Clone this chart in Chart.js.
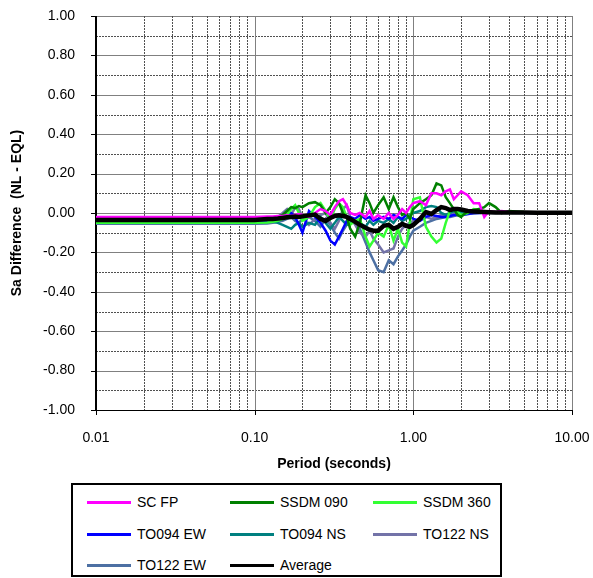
<!DOCTYPE html>
<html><head><meta charset="utf-8">
<script src="https://cdn.jsdelivr.net/npm/chart.js@4/dist/chart.umd.min.js"></script>
<style>
html,body{margin:0;padding:0;background:#fff;}
#wrap{position:relative;width:593px;height:578px;overflow:hidden;}
#c{position:absolute;left:0;top:0;}
#legend{position:absolute;left:71px;top:483px;width:427px;height:90px;border:2px solid #000;font-family:"Liberation Sans",Arial,sans-serif;font-size:14px;color:#000;background:#fff;}
.item{position:absolute;height:18px;line-height:18px;white-space:nowrap;}
.item .ln{position:absolute;left:0;top:8px;width:44px;height:3px;}
.item .tx{position:absolute;left:50px;top:0;}
</style></head>
<body><div id="wrap"><canvas id="c" width="593" height="480"></canvas><div id="legend"></div></div>
<script>
const periods = [0.01,0.02,0.05,0.1,0.12, 0.13,0.14,0.15,0.16,0.17,0.18,0.19,0.20, 0.22,0.24,0.26,0.28,0.30, 0.32,0.34,0.36,0.38,0.40, 0.43,0.46,0.50,0.53,0.56,0.60, 0.65,0.70,0.75,0.80,0.85,0.90,0.95,1.0, 1.1,1.2,1.3,1.4,1.5,1.6,1.7,1.8,1.9,2.0, 2.2,2.4,2.6,2.8,3.0,3.3,3.6,4.0, 5,6,8,10];

const scFP = [-0.02,-0.02,-0.02,-0.02,-0.018,
 -0.018,-0.015,-0.015,-0.012,-0.015,-0.01,-0.005,-0.01,
 -0.02,0.0,0.02,0.01,-0.01,
 0.03,0.06,0.07,0.04,0.0,
 -0.01,0.0,-0.02,0.01,-0.03,-0.01,
 -0.03,0.0,-0.03,-0.01,0.02,0.0,0.03,0.05,
 0.06,0.04,0.1,0.1,0.09,0.11,0.12,0.07,0.09,0.11,
 0.09,0.05,0.05,-0.02,0.01,0.005,0.01,0.005,
 0.003,0.002,0.001,0.001];
const ssdm090 = [-0.03,-0.03,-0.03,-0.03,-0.028,
 -0.025,-0.02,-0.01,0.01,0.03,0.025,0.035,0.03,
 0.05,0.055,0.04,0.0,0.03,
 0.07,0.05,0.0,-0.02,-0.08,
 -0.12,-0.05,0.09,0.05,0.0,0.04,
 0.08,0.02,0.08,0.03,-0.01,0.0,-0.03,0.02,
 0.05,0.07,0.09,0.15,0.14,0.08,0.05,0.02,-0.01,-0.02,
 0.01,0.015,0.02,0.03,0.05,0.03,0.0,0.01,
 0.005,0.003,0.002,0.001];
const ssdm360 = [-0.05,-0.05,-0.05,-0.05,-0.048,
 -0.045,-0.04,-0.03,-0.01,0.02,0.04,0.0,-0.04,
 -0.02,0.03,0.05,0.01,-0.03,
 0.02,0.05,0.03,-0.02,-0.06,
 -0.04,-0.03,-0.12,-0.17,-0.14,-0.1,
 -0.12,-0.06,-0.14,-0.08,-0.15,-0.17,-0.05,0.07,
 0.08,-0.07,-0.12,-0.15,-0.13,-0.05,0.01,0.02,0.005,-0.01,
 0.0,0.02,0.015,0.01,0.008,0.006,0.005,0.003,
 0.002,0.001,0.001,0.0];
const to094EW = [-0.04,-0.04,-0.04,-0.04,-0.038,
 -0.035,-0.03,-0.02,-0.01,0.0,-0.02,-0.06,-0.1,
 0.01,-0.02,-0.05,-0.09,-0.14,
 -0.16,-0.12,-0.08,-0.04,-0.02,
 -0.03,-0.01,-0.03,-0.02,-0.04,-0.03,
 -0.02,-0.03,-0.01,-0.02,-0.03,-0.01,-0.02,-0.03,
 -0.04,-0.02,-0.01,-0.015,-0.02,-0.02,-0.015,-0.01,-0.01,-0.01,
 -0.005,0.0,0.0,0.002,0.002,0.002,0.002,0.001,
 0.001,0.001,0.0,0.0];
const to094NS = [-0.045,-0.045,-0.045,-0.045,-0.045,
 -0.045,-0.05,-0.06,-0.07,-0.08,-0.06,-0.05,-0.07,
 -0.05,-0.06,-0.02,-0.05,-0.08,
 -0.05,-0.02,-0.04,-0.06,-0.05,
 -0.03,-0.05,-0.07,-0.04,-0.06,-0.04,
 -0.05,-0.03,-0.05,-0.02,-0.04,-0.03,-0.01,0.0,
 0.01,0.03,0.035,0.03,0.0,-0.01,0.0,0.01,0.01,0.005,
 0.005,0.005,0.004,0.003,0.003,0.002,0.002,0.001,
 0.001,0.0,0.0,0.0];
const to122NS = [-0.035,-0.035,-0.035,-0.035,-0.033,
 -0.03,-0.02,0.0,0.02,-0.01,0.03,0.02,-0.02,
 -0.06,-0.03,-0.01,0.0,-0.05,
 -0.08,-0.04,0.02,0.04,-0.02,
 -0.06,-0.1,-0.12,-0.09,-0.13,-0.16,
 -0.2,-0.19,-0.18,-0.12,-0.08,-0.06,-0.05,-0.04,
 -0.03,-0.02,-0.03,-0.02,-0.01,-0.01,-0.01,0.0,0.0,0.0,
 0.0,0.002,0.002,0.002,0.002,0.001,0.001,0.001,
 0.0,0.0,0.0,0.0];
const to122EW = [-0.055,-0.055,-0.055,-0.055,-0.053,
 -0.05,-0.045,-0.04,-0.03,-0.02,-0.04,-0.05,-0.03,
 -0.02,-0.04,-0.07,-0.03,-0.06,
 -0.1,-0.13,-0.09,-0.06,-0.04,
 -0.05,-0.08,-0.15,-0.2,-0.24,-0.29,
 -0.3,-0.24,-0.26,-0.22,-0.19,-0.16,-0.12,-0.09,
 -0.07,-0.05,-0.04,-0.03,-0.025,-0.02,-0.02,-0.015,-0.01,-0.01,
 -0.005,-0.002,0.0,0.0,0.0,0.0,0.0,0.0,
 0.0,0.0,0.0,0.0];
const average = [-0.035,-0.035,-0.035,-0.035,-0.03,
 -0.03,-0.028,-0.025,-0.022,-0.02,-0.018,-0.02,-0.017,
 -0.012,-0.008,-0.03,-0.04,-0.025,
 -0.015,-0.012,-0.015,-0.02,-0.03,
 -0.045,-0.06,-0.075,-0.085,-0.09,-0.09,
 -0.065,-0.06,-0.08,-0.07,-0.055,-0.065,-0.07,-0.06,
 -0.03,0.005,-0.005,0.015,0.03,0.025,0.015,0.02,0.02,0.018,
 0.01,0.008,0.006,0.005,0.004,0.003,0.003,0.002,
 0.002,0.001,0.001,0.001];

const seriesNames = ['SC FP','SSDM 090','SSDM 360','TO094 EW','TO094 NS','TO122 NS','TO122 EW','Average'];
const seriesValues = [scFP, ssdm090, ssdm360, to094EW, to094NS, to122NS, to122EW, average];
const seriesColors = ['#FF00FF','#008000','#33FF33','#0000FF','#008080','#7373A8','#4D70A3','#000000'];
const seriesWidths = [2.5,2.5,2.5,2.5,2.5,2.5,2.5,4.5];

const xMajorTicks = [0.01, 0.1, 1, 10];
const yMin = -1, yMax = 1, yStep = 0.2;

const FONT = '"Liberation Sans", Arial, sans-serif';

const gridPlugin = {
  id: 'excelGrid',
  beforeDatasetsDraw(chart) {
    const {ctx, chartArea: a, scales: {x, y}} = chart;
    ctx.save();
    ctx.lineWidth = 1;
    const r = v => Math.round(v) + 0.5;
    for (let i = -10; i <= 10; i++) {
      const py = r(y.getPixelForValue(i / 10));
      const major = (i % 2 === 0);
      ctx.beginPath();
      ctx.setLineDash(major ? [] : [2, 1]);
      ctx.strokeStyle = major ? '#808080' : '#505050';
      ctx.moveTo(a.left, py); ctx.lineTo(a.right, py);
      ctx.stroke();
    }
    for (let d = 0; d < xMajorTicks.length; d++) {
      const base = xMajorTicks[d];
      for (let m = 1; m <= 9; m++) {
        const v = base * m;
        if (v > 10.0001) break;
        const px = r(x.getPixelForValue(v));
        const major = (m === 1);
        ctx.beginPath();
        ctx.setLineDash(major ? [] : [2, 1]);
        ctx.strokeStyle = major ? '#808080' : '#505050';
        ctx.moveTo(px, a.top); ctx.lineTo(px, a.bottom);
        ctx.stroke();
      }
    }
    ctx.setLineDash([]);
    ctx.strokeStyle = '#000';
    const by = r(a.bottom);
    ctx.beginPath(); ctx.moveTo(a.left, by); ctx.lineTo(a.right, by); ctx.stroke();
    for (let i = -5; i <= 5; i++) {
      const py = r(y.getPixelForValue(i / 5));
      ctx.beginPath(); ctx.moveTo(a.left - 5, py); ctx.lineTo(a.left, py); ctx.stroke();
    }
    xMajorTicks.forEach(v => {
      const px = r(x.getPixelForValue(v));
      ctx.beginPath(); ctx.moveTo(px, a.bottom); ctx.lineTo(px, a.bottom + 5); ctx.stroke();
    });
    ctx.lineWidth = 2;
    ctx.beginPath(); ctx.moveTo(Math.round(a.left), a.top); ctx.lineTo(Math.round(a.left), a.bottom + 1); ctx.stroke();
    ctx.restore();
  }
};

const datasets = seriesNames.map((name, i) => ({
  label: name,
  data: periods.map((p, j) => ({x: p, y: seriesValues[i][j]})),
  borderColor: seriesColors[i],
  backgroundColor: seriesColors[i],
  borderWidth: seriesWidths[i],
  pointRadius: 0,
  tension: 0,
  fill: false,
  order: name === 'Average' ? -1 : i
}));

new Chart(document.getElementById('c'), {
  type: 'line',
  data: {datasets},
  options: {
    responsive: false,
    animation: false,
    layout: {padding: {left: 0, right: 21, top: 16, bottom: 0}},
    plugins: {legend: {display: false}, tooltip: {enabled: false}},
    scales: {
      x: {
        type: 'logarithmic',
        min: 0.01, max: 10,
        afterBuildTicks: s => { s.ticks = xMajorTicks.map(v => ({value: v})); },
        afterFit: s => { s.height = 70; s.paddingLeft = 0; s.paddingRight = 0; s.paddingTop = 0; s.paddingBottom = 0; },
        grid: {display: false, drawTicks: false},
        border: {display: false},
        ticks: {
          autoSkip: false, maxRotation: 0, padding: 20,
          color: '#000', font: {family: FONT, size: 14},
          callback: v => Number(v).toFixed(2)
        },
        title: {display: true, text: 'Period (seconds)', color: '#000',
          font: {family: FONT, size: 14, weight: 'bold'}, padding: {top: 0, bottom: 7.6}}
      },
      y: {
        min: yMin, max: yMax,
        afterFit: s => { s.width = 96; s.paddingLeft = 0; s.paddingRight = 0; s.paddingTop = 0; s.paddingBottom = 0; },
        grid: {display: false, drawTicks: false},
        border: {display: false},
        ticks: {
          stepSize: yStep, padding: 21,
          color: '#000', font: {family: FONT, size: 14},
          callback: v => (Math.abs(v) < 1e-9 ? 0 : v).toFixed(2)
        },
        title: {display: true, text: 'Sa Difference  (NL - EQL)', color: '#000',
          font: {family: FONT, size: 14, weight: 'bold'}, padding: {top: 8.6, bottom: 0}}
      }
    }
  },
  plugins: [gridPlugin]
});

const legend = document.getElementById('legend');
const colX = [14, 157, 300];
const rowY = [8, 40, 71];
seriesNames.forEach((name, i) => {
  const it = document.createElement('div');
  it.className = 'item';
  it.style.left = colX[i % 3] + 'px';
  it.style.top = rowY[Math.floor(i / 3)] + 'px';
  const ln = document.createElement('span');
  ln.className = 'ln';
  ln.style.background = seriesColors[i];
  const tx = document.createElement('span');
  tx.className = 'tx';
  tx.textContent = name;
  it.appendChild(ln); it.appendChild(tx);
  legend.appendChild(it);
});
</script>
</body></html>
